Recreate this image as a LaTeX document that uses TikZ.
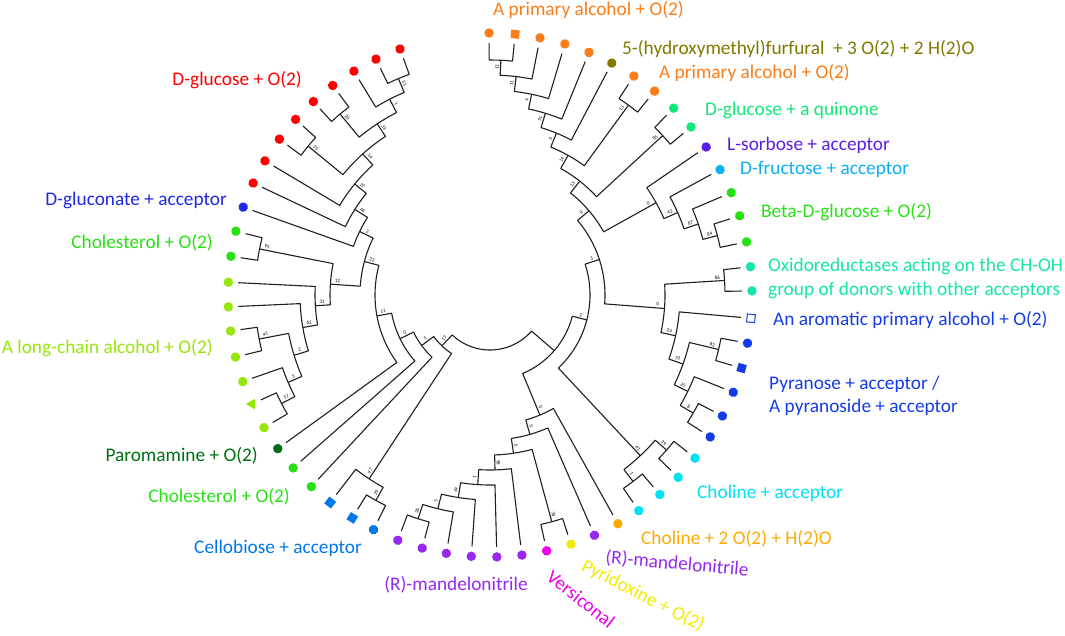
\documentclass[tikz,border=0pt]{standalone}
\usepackage{fontspec}
\setmainfont{Carlito}
\usetikzlibrary{shapes.geometric}
\definecolor{cRed}{RGB}{255,0,0}
\definecolor{cOrange}{RGB}{250,125,25}
\definecolor{cOlive}{RGB}{128,120,0}
\definecolor{cSpring}{RGB}{20,230,120}
\definecolor{cViolet}{RGB}{90,30,230}
\definecolor{cSky}{RGB}{10,175,240}
\definecolor{cGreen}{RGB}{40,225,20}
\definecolor{cTeal}{RGB}{20,230,170}
\definecolor{cBlue}{RGB}{20,60,230}
\definecolor{cCyan}{RGB}{0,225,240}
\definecolor{cAmber}{RGB}{255,170,0}
\definecolor{cPurple}{RGB}{150,40,240}
\definecolor{cMagenta}{RGB}{235,0,235}
\definecolor{cYellow}{RGB}{245,235,0}
\definecolor{cLime}{RGB}{150,230,10}
\definecolor{cDark}{RGB}{0,110,20}
\definecolor{cCello}{RGB}{0,120,235}
\definecolor{cGlu}{RGB}{30,40,230}
\makeatletter
\newcommand\LF[2]{%
  \expandafter\gdef\csname TA@#1\endcsname{#2}%
  \expandafter\gdef\csname TR@#1\endcsname{252}}
\newcommand\IN[5]{%
  \edef\qA{\csname TA@#2\endcsname}%
  \edef\qB{\csname TA@#3\endcsname}%
  \edef\qrA{\csname TR@#2\endcsname}%
  \edef\qrB{\csname TR@#3\endcsname}%
  \pgfmathsetmacro\qR{250-15*#4}%
  \pgfmathsetmacro\qM{(\qA+\qB)/2}%
  \expandafter\xdef\csname TA@#1\endcsname{\qM}%
  \expandafter\xdef\csname TR@#1\endcsname{\qR}%
  \draw[br] (\qA:\qrA) -- (\qA:\qR) arc[start angle=\qA, end angle=\qB, radius=\qR] -- (\qB:\qrB);
  \coordinate (#1) at (\qM:\qR);
  \ifx\relax#5\relax\else
    \pgfmathsetmacro\qMM{mod(\qM,360)}%
    \pgfmathtruncatemacro\qL{and(\qMM>90,\qMM<270)}%
    \ifnum\qL=1
      \pgfmathsetmacro\qrot{\qM-180}\pgfmathsetmacro\qod{\qM-90}%
    \else
      \pgfmathsetmacro\qrot{\qM}\pgfmathsetmacro\qod{\qM+90}%
    \fi
    \pgfmathsetmacro\qlr{\qR-7}%
    \path (\qM:\qlr) ++(\qod:3.5) node[bs,rotate=\qrot] {#5};%
  \fi}
\newcommand\DT[3][leafdot]{%
  \edef\qA{\csname TA@l#2\endcsname}%
  \node[#1,fill=#3,rotate=\qA] (d#2) at (\qA:262) {};}
\makeatother
\begin{document}
\begin{tikzpicture}[x=1pt,y=1pt,
  br/.style={line width=1.1pt,draw=black!88,line join=round},
  bs/.style={font=\fontsize{5}{5}\selectfont,inner sep=0},
  leafdot/.style={circle,inner sep=0,minimum size=9.5pt,draw=none},
  sqdot/.style={rectangle,inner sep=0,minimum size=8.5pt,draw=none},
  tridot/.style={regular polygon,regular polygon sides=3,inner sep=0,minimum size=12pt,draw=none,shape border rotate=90},
  lab/.style={font=\fontsize{19.3}{23.5}\selectfont,inner sep=0}]
\useasboundingbox (0,0) rectangle (1065,-635);
\begin{scope}[shift={(490,-295)}]
% leaves (angles in degrees, counter-clockwise)
\LF{l1}{249.4}\LF{l2}{255.0}\LF{l3}{260.4}\LF{l4}{265.9}\LF{l5}{271.5}
\LF{l6}{277.0}\LF{l7}{282.5}\LF{l8}{288.0}\LF{l9}{293.5}\LF{l10}{299.2}
\LF{l11}{304.6}\LF{l12}{310.4}\LF{l13}{315.9}\LF{l14}{321.5}\LF{l15}{327.2}
\LF{l16}{332.5}\LF{l17}{338.2}\LF{l18}{343.8}\LF{l19}{349.4}\LF{l20}{354.9}
\LF{l21}{360.9}\LF{l22}{366.2}\LF{l23}{371.7}\LF{l24}{377.6}\LF{l25}{383.0}
\LF{l26}{388.6}\LF{l27}{394.4}\LF{l28}{399.9}\LF{l29}{405.5}\LF{l30}{411.1}
\LF{l31}{416.7}\LF{l32}{422.3}\LF{l33}{427.8}\LF{l34}{433.4}\LF{l35}{439.0}
\LF{l36}{444.5}\LF{l37}{450.2}\LF{l38}{110.1}\LF{l39}{115.8}\LF{l40}{121.3}
\LF{l41}{126.9}\LF{l42}{132.4}\LF{l43}{137.9}\LF{l44}{143.5}\LF{l45}{149.2}
\LF{l46}{154.7}\LF{l47}{160.4}\LF{l48}{165.9}\LF{l49}{171.5}\LF{l50}{177.2}
\LF{l51}{182.6}\LF{l52}{187.9}\LF{l53}{193.7}\LF{l54}{199.3}\LF{l55}{204.6}
\LF{l56}{210.4}\LF{l57}{215.9}\LF{l58}{221.3}\LF{l59}{227.0}\LF{l60}{232.4}
\LF{l61}{238.3}\LF{l62}{243.6}
% left subtree
\IN{c55}{l38}{l39}{1}{55}
\IN{n1}{c55}{l40}{2}{1}
\IN{c20}{l41}{l42}{1}{20}
\IN{n33}{n1}{c20}{3}{33}
\IN{c35}{l43}{l44}{1}{35}
\IN{n14}{n33}{c35}{4}{14}
\IN{nr22}{n14}{l45}{5}{22}
\IN{n46}{nr22}{l46}{6}{46}
\IN{x2}{n46}{l47}{7}{2}
\IN{c95}{l48}{l49}{1}{95}
\IN{c45}{l52}{l53}{1}{45}
\IN{c57}{l55}{l56}{1}{57}
\IN{n3}{l54}{c57}{2}{3}
\IN{n2}{c45}{n3}{3}{2}
\IN{n62}{l51}{n2}{4}{62}
\IN{n31}{l50}{n62}{5}{31}
\IN{n12}{c95}{n31}{6}{12}
\IN{L22}{x2}{n12}{8}{22}
\IN{L11}{L22}{l57}{9}{11}
\IN{L0}{L11}{l58}{10}{0}
\IN{L5}{L0}{l59}{11}{5}
\IN{c29}{l61}{l62}{1}{29}
\IN{n97}{l60}{c29}{2}{97}
\IN{L17}{L5}{n97}{12}{17}
% right subtree
\IN{c26}{l1}{l2}{1}{26}
\IN{m5}{c26}{l3}{2}{5}
\IN{m49}{m5}{l4}{3}{49}
\IN{m1}{m49}{l5}{4}{1}
\IN{m98}{m1}{l6}{5}{98}
\IN{c78}{l7}{l8}{1}{78}
\IN{m0a}{m98}{c78}{6}{0}
\IN{m0b}{m0a}{l9}{7}{0}
\IN{m0c}{m0b}{l10}{8}{0}
\IN{ch1}{l11}{l12}{1}{1}
\IN{c39}{l13}{l14}{1}{39}
\IN{ch61}{ch1}{c39}{2}{61}
\IN{c8}{l15}{l16}{1}{8}
\IN{b25}{l17}{c8}{2}{25}
\IN{c82}{l18}{l19}{1}{82}
\IN{b73}{b25}{c82}{3}{73}
\IN{b24}{b73}{l20}{4}{24}
\IN{c86}{l21}{l22}{1}{86}
\IN{b0}{b24}{c86}{5}{0}
\IN{c84}{l23}{l24}{1}{84}
\IN{a87}{l25}{c84}{2}{87}
\IN{a42}{l26}{a87}{3}{42}
\IN{a0}{l27}{a42}{4}{0}
\IN{c85}{l28}{l29}{1}{85}
\IN{c13}{l30}{l31}{1}{13}
\IN{c36}{l36}{l37}{1}{12}
\IN{o2}{l35}{c36}{2}{11}
\IN{o3}{l34}{o2}{3}{4}
\IN{o4}{l33}{o3}{4}{51}
\IN{o5}{l32}{o4}{5}{0}
\IN{o14}{c13}{o5}{6}{14}
\IN{o13}{c85}{o14}{7}{13}
\IN{R4}{a0}{o13}{8}{0}
\IN{R3}{b0}{R4}{9}{3}
\IN{R2}{ch61}{R3}{10}{2}
\IN{R1}{m0c}{R2}{11}{}
\IN{root}{L17}{R1}{13}{}
% leaf markers
\foreach \i in {1,...,6,9} {\DT{\i}{cPurple}}
\DT{7}{cMagenta}\DT{8}{cYellow}\DT{10}{cAmber}
\foreach \i in {11,...,14} {\DT{\i}{cCyan}}
\foreach \i in {15,16,17,19} {\DT{\i}{cBlue}}
\DT[sqdot]{18}{cBlue}
\node[sqdot,fill=white,draw=cBlue,line width=1pt,minimum size=8pt,rotate=\csname TA@l20\endcsname] (d20) at (\csname TA@l20\endcsname:262) {};
\DT{21}{cTeal}\DT{22}{cTeal}
\foreach \i in {23,24,25} {\DT{\i}{cGreen}}
\DT{26}{cSky}\DT{27}{cViolet}\DT{28}{cSpring}\DT{29}{cSpring}
\foreach \i in {30,31,33,34,35,37} {\DT{\i}{cOrange}}
\DT[sqdot]{36}{cOrange}
\DT{32}{cOlive}
\foreach \i in {38,...,46} {\DT{\i}{cRed}}
\DT{47}{cGlu}
\foreach \i in {48,49,58,59} {\DT{\i}{cGreen}}
\foreach \i in {50,...,54,56} {\DT{\i}{cLime}}
\node[tridot,fill=cLime] (d55) at (\csname TA@l55\endcsname:262) {};
\DT{57}{cDark}
\DT[sqdot]{60}{cCello}\DT[sqdot]{61}{cCello}\DT{62}{cCello}
\end{scope}
% labels
\node[lab,text=cRed,anchor=east] (tglu) at (302,-80) {D-glucose + O(2)};
\node[lab,text=cGlu,anchor=east] (tgluc) at (227,-200) {D-gluconate + acceptor};
\node[lab,text=cGreen,anchor=east] (tchol1) at (213,-243) {Cholesterol + O(2)};
\node[lab,text=cLime,anchor=east] (tlong) at (213,-348) {A long-chain alcohol + O(2)};
\node[lab,text=cDark,anchor=east] (tparo) at (258,-456) {Paromamine + O(2)};
\node[lab,text=cGreen,anchor=east] (tchol2) at (290,-497) {Cholesterol + O(2)};
\node[lab,text=cCello,anchor=east] (tcello) at (362,-548) {Cellobiose + acceptor};
\node[lab,text=cPurple] (tmand1) at (456,-585) {(R)-mandelonitrile};
\node[lab,text=cMagenta,rotate=-38] (tvers) at (581,-599) {Versiconal};
\node[lab,text=cYellow,rotate=-27] (tpyr) at (643,-596) {Pyridoxine + O(2)};
\node[lab,text=cPurple,rotate=-5] (tmand2) at (677,-564) {(R)-mandelonitrile};
\node[lab,text=cAmber,anchor=west] (tcho2) at (641,-539) {Choline + 2 O(2) + H(2)O};
\node[lab,text=cCyan,anchor=west] (tcho1) at (697,-493) {Choline + acceptor};
\node[lab,text=cBlue,anchor=west,align=left] (tpyra) at (769,-396) {Pyranose + acceptor /\\A pyranoside + acceptor};
\node[lab,text=cBlue,anchor=west] (tarom) at (773,-320) {An aromatic primary alcohol + O(2)};
\node[lab,text=cTeal,anchor=west,align=left] (toxi) at (768,-278.5) {Oxidoreductases acting on the CH-OH\\group of donors with other acceptors};
\node[lab,text=cGreen,anchor=west] (tbeta) at (761,-212) {Beta-D-glucose + O(2)};
\node[lab,text=cSky,anchor=west] (tfru) at (740,-169) {D-fructose + acceptor};
\node[lab,text=cViolet,anchor=west] (tsor) at (727,-145) {L-sorbose + acceptor};
\node[lab,text=cSpring,anchor=west] (tquin) at (705,-110) {D-glucose + a quinone};
\node[lab,text=cOrange,anchor=west] (tprim2) at (659,-73) {A primary alcohol + O(2)};
\node[lab,text=cOlive,anchor=west] (thmf) at (622,-49) {5-(hydroxymethyl)furfural~ + 3 O(2) + 2 H(2)O};
\node[lab,text=cOrange,anchor=west] (tprim1) at (493,-10) {A primary alcohol + O(2)};
\end{tikzpicture}
\end{document}
